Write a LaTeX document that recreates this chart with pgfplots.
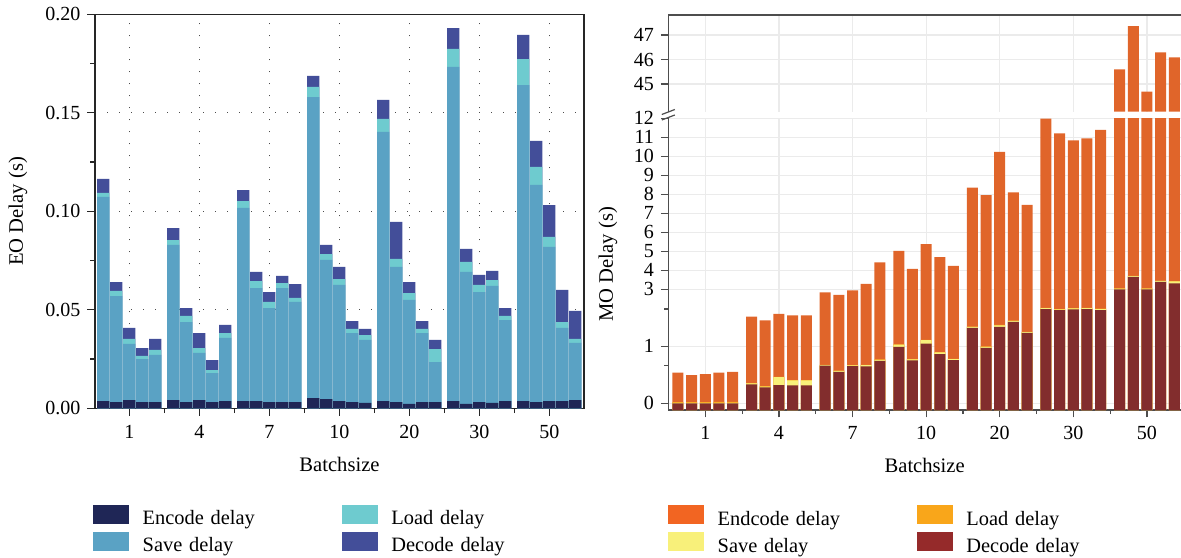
\documentclass[border=0pt]{standalone}
\usepackage{fontspec}
\setmainfont{Liberation Serif}
\usepackage{pgfplots}
\usepackage{pgfplotstable}
\pgfplotsset{compat=1.18}
\definecolor{enc}{HTML}{1F2656}
\definecolor{sav}{HTML}{5AA2C4}
\definecolor{lod}{HTML}{6ECBCF}
\definecolor{dec}{HTML}{434E99}
\definecolor{mend}{HTML}{E0652A}
\definecolor{mendleg}{HTML}{F26522}
\definecolor{msav}{HTML}{F8F07A}
\definecolor{mlod}{HTML}{F9A61A}
\definecolor{mdec}{HTML}{822D2D}
\definecolor{mdecleg}{HTML}{952A2A}
\definecolor{mgrid}{HTML}{EBEBEB}
\definecolor{spine}{HTML}{4D4D4D}

\pgfplotstableread{
x E S L D
-26 0.0037 0.1073 0.1093 0.1164
-13 0.0032 0.0570 0.0596 0.0641
0 0.0042 0.0327 0.0352 0.0408
13 0.0032 0.0250 0.0266 0.0306
26 0.0032 0.0271 0.0296 0.0352
44 0.0042 0.0829 0.0854 0.0915
57 0.0032 0.0438 0.0469 0.0509
70 0.0042 0.0281 0.0306 0.0382
83 0.0032 0.0179 0.0194 0.0245
96 0.0037 0.0357 0.0382 0.0423
114 0.0037 0.1017 0.1052 0.1108
127 0.0037 0.0610 0.0646 0.0692
140 0.0032 0.0509 0.0540 0.0590
153 0.0032 0.0610 0.0636 0.0672
166 0.0032 0.0540 0.0560 0.0631
184 0.0052 0.1580 0.1631 0.1687
197 0.0047 0.0753 0.0783 0.0829
210 0.0037 0.0626 0.0656 0.0718
223 0.0032 0.0382 0.0403 0.0443
236 0.0027 0.0347 0.0372 0.0403
254 0.0037 0.1403 0.1469 0.1565
267 0.0032 0.0718 0.0758 0.0946
280 0.0022 0.0550 0.0585 0.0641
293 0.0032 0.0382 0.0403 0.0443
306 0.0032 0.0235 0.0301 0.0347
324 0.0037 0.1733 0.1824 0.1930
337 0.0022 0.0692 0.0743 0.0809
350 0.0032 0.0590 0.0626 0.0677
363 0.0027 0.0621 0.0651 0.0697
376 0.0037 0.0448 0.0469 0.0509
394 0.0037 0.1641 0.1773 0.1895
407 0.0032 0.1134 0.1225 0.1357
420 0.0037 0.0819 0.0870 0.1032
433 0.0037 0.0408 0.0438 0.0601
446 0.0042 0.0332 0.0352 0.0494
}\eodata

\pgfplotstableread{
x D S L E
-27.34 0 0.01 0.02 0.537
-13.67 0 0.01 0.02 0.497
0 0 0.01 0.02 0.513
13.67 0 0.01 0.025 0.537
27.34 0 0.01 0.025 0.554
46.26 0.333 0.35 0.356 2.04
59.93 0.281 0.295 0.303 1.91
73.6 0.321 0.461 0.465 2.14
87.27 0.316 0.404 0.408 2.09
100.94 0.316 0.404 0.408 2.09
119.86 0.66 0.67 0.675 2.89
133.53 0.554 0.57 0.575 2.81
147.2 0.654 0.665 0.67 2.96
160.87 0.649 0.67 0.675 3.29
174.54 0.747 0.765 0.77 4.42
193.46 0.993 1.06 1.07 5.03
207.13 0.754 0.77 0.775 4.08
220.8 1.1 1.22 1.23 5.38
234.47 0.865 0.895 0.9 4.70
248.14 0.76 0.775 0.78 4.23
267.06 1.65 1.68 1.69 8.35
280.73 0.975 0.99 1.0 7.96
294.4 1.68 1.74 1.75 10.24
308.07 1.86 1.89 1.90 8.10
321.74 1.47 1.50 1.51 7.45
340.66 2.31 2.34 2.35 11.98
354.33 2.27 2.30 2.31 11.21
368 2.30 2.33 2.34 10.84
381.67 2.31 2.34 2.35 10.95
395.34 2.27 2.31 2.32 11.40
414.26 3.0 3.04 3.05 45.6
427.93 3.66 3.70 3.71 47.36
441.6 3.0 3.04 3.05 44.69
455.27 3.4 3.44 3.45 46.29
468.94 3.32 3.42 3.43 46.09
}\modata

\pgfplotsset{
  swatch/.style={legend image code/.code={%
    \fill[##1] (0pt,-2.175pt) rectangle (18.15pt,7.175pt);
    \path[draw=none, fill=none] (0pt,-4.25pt) rectangle (18.15pt,9.25pt);}},
  mylegend/.style={
    legend columns=2, legend cell align=left,
    legend style={draw=none, fill=none, inner sep=0pt, outer sep=0pt, row sep=0pt,
      /tikz/every odd column/.append style={column sep=6.7pt},
      /tikz/every even column/.append style={column sep=0pt},
      nodes={inner sep=0pt, text width=99.5pt, align=left, font=\fontsize{10.2}{12}\selectfont}}},
  every tick label/.append style={font=\fontsize{10}{11}\selectfont},
  xticklabel style={yshift=-1pt},
  label style={font=\fontsize{10.3}{12}\selectfont},
  /pgf/number format/assume math mode=true,
}

\begin{document}
\begin{tikzpicture}
\useasboundingbox (0pt,0pt) rectangle (590.5pt,-278.5pt);

% ---------------- Left chart ----------------
\begin{axis}[
  at={(47.5pt,-204.15pt)}, anchor=south west,
  x=0.5pt, y=985pt,
  xmin=-34.3, xmax=454.7, ymin=0, ymax=0.2,
  axis line style={line width=0.6pt, black!85},
  tick align=outside, xtick pos=bottom, ytick pos=left,
  major tick length=3.8pt, minor tick length=2.4pt,
  tick style={line width=0.6pt, black!85},
  xtick={0,70,140,210,280,350,420},
  xticklabels={1,4,7,10,20,30,50},
  minor xtick={35,105,175,245,315,385},
  ytick={0,0.05,0.1,0.15,0.2},
  minor ytick={0.025,0.075,0.125,0.175},
  yticklabel style={/pgf/number format/.cd, fixed, fixed zerofill, precision=2},
  xmajorgrids, ymajorgrids,
  major grid style={line width=0.6pt, black!70, dash pattern=on 0.6pt off 5.4pt},
  xlabel={Batchsize}, ylabel={EO Delay (s)},
  xlabel style={at={(axis description cs:0.5,-0.1414)}, anchor=center},
  ylabel style={at={(axis description cs:-0.1575,0.5)}, anchor=center},
  mylegend,
  legend style={at={(-0.00409,-0.2348)}, anchor=north west},
]
\addplot[ybar, bar width=6.15pt, bar shift=0pt, fill=dec, draw=none, forget plot] table[x=x,y=D]{\eodata};
\addplot[ybar, bar width=6.15pt, bar shift=0pt, fill=lod, draw=none, forget plot] table[x=x,y=L]{\eodata};
\addplot[ybar, bar width=6.15pt, bar shift=0pt, fill=sav, draw=none, forget plot] table[x=x,y=S]{\eodata};
\addplot[ybar, bar width=6.15pt, bar shift=0pt, fill=enc, draw=none, forget plot] table[x=x,y=E]{\eodata};
\addlegendimage{swatch, fill=enc, draw=none}
\addlegendentry{Encode delay}
\addlegendimage{swatch, fill=lod, draw=none}
\addlegendentry{Load delay}
\addlegendimage{swatch, fill=sav, draw=none}
\addlegendentry{Save delay}
\addlegendimage{swatch, fill=dec, draw=none}
\addlegendentry{Decode delay}
\end{axis}

% ---------------- Right chart, upper part ----------------
\begin{axis}[
  at={(334.15pt,-55.85pt)}, anchor=south west,
  x=0.5pt, y=12.25pt,
  xmin=-37, xmax=475.7, ymin=43.87, ymax=47.82,
  axis y line*=left, axis x line*=top,
  axis line style={-, line width=0.6pt, spine},
  tick align=outside, major tick length=3.7pt,
  tick style={line width=0.6pt, spine},
  xtick={0,73.6,147.2,220.8,294.4,368,441.6},
  xticklabels=\empty,
  major x tick style={draw=none},
  ytick={45,46,47},
  xmajorgrids, ymajorgrids,
  major grid style={line width=0.6pt, mgrid},
]
\addplot[ybar, bar width=5.5pt, bar shift=0pt, fill=mend, draw=none,
  restrict y to domain=40:60] table[x=x,y=E]{\modata};
\end{axis}

% ---------------- Right chart, lower part ----------------
\begin{axis}[
  at={(334.15pt,-205pt)}, anchor=south west,
  x=0.5pt, y=9.5pt,
  y coord trafo/.code={\pgfmathparse{0.35+((#1)<=1)*3*(#1)+((#1)>1)*((#1)<=3)*(3+1.5*((#1)-1))+((#1)>3)*(6+(#1)-3)}},
  xmin=-37, xmax=475.7, ymin=-0.1167, ymax=12,
  axis y line*=left, axis x line*=bottom,
  axis line style={-, line width=0.6pt, spine},
  tick align=outside, major tick length=3.7pt, minor tick length=2pt,
  tick style={line width=0.6pt, spine},
  xtick={0,73.6,147.2,220.8,294.4,368,441.6},
  xticklabels={1,4,7,10,20,30,50},
  minor xtick={36.8,110.4,184,257.6,331.2,404.8},
  ytick={0,1,3,4,5,6,7,8,9,10,11,12},
  yticklabels={0,1,3,4,5,6,7,8,9,10,11,12},
  minor ytick={0.66,2.31},
  xmajorgrids, ymajorgrids,
  major grid style={line width=0.6pt, mgrid},
  xlabel={Batchsize}, ylabel={MO Delay (s)},
  xlabel style={at={(axis description cs:0.5,-0.189)}, anchor=center},
  ylabel style={at={(axis description cs:-0.1176,0.5)}, anchor=center},
  mylegend,
  legend style={at={(-0.0006,-0.312)}, anchor=north west},
]
\addplot[ybar, bar width=5.5pt, bar shift=0pt, fill=mend, draw=none, forget plot] table[x=x,y=E]{\modata};
\addplot[ybar, bar width=5.5pt, bar shift=0pt, fill=mlod, draw=none, forget plot] table[x=x,y=L]{\modata};
\addplot[ybar, bar width=5.5pt, bar shift=0pt, fill=msav, draw=none, forget plot] table[x=x,y=S]{\modata};
\addplot[ybar, bar width=5.5pt, bar shift=0pt, fill=mdec, draw=none, forget plot] table[x=x,y=D]{\modata};
\addlegendimage{swatch, fill=mendleg, draw=none}
\addlegendentry{Endcode delay}
\addlegendimage{swatch, fill=mlod, draw=none}
\addlegendentry{Load delay}
\addlegendimage{swatch, fill=msav, draw=none}
\addlegendentry{Save delay}
\addlegendimage{swatch, fill=mdecleg, draw=none}
\addlegendentry{Decode delay}
\end{axis}

% axis-break marks on the left spine of the right chart
\draw[line width=0.6pt, spine] (330.9pt,-57.25pt) -- (337.4pt,-54.75pt);
\draw[line width=0.6pt, spine] (330.9pt,-60pt) -- (337.4pt,-57.5pt);
\end{tikzpicture}
\end{document}
